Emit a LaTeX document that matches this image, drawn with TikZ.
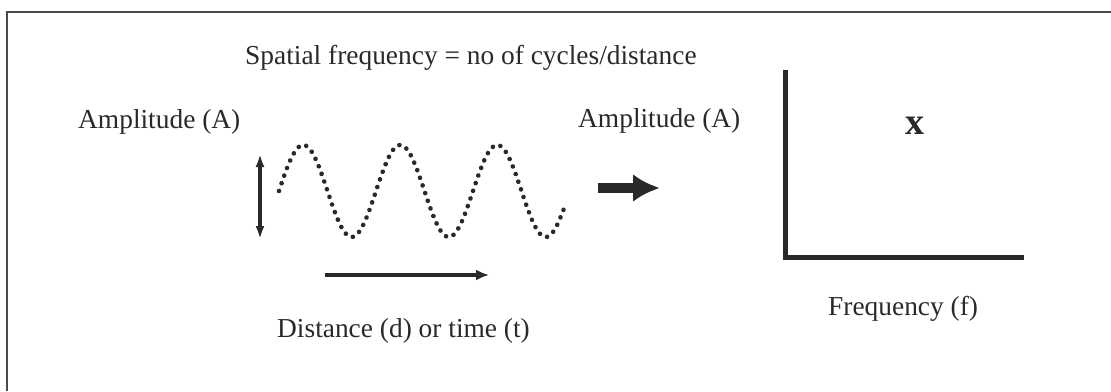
\documentclass[tikz,border=0pt]{standalone}
\usepackage{fontspec}
\setmainfont{Liberation Serif}
\usetikzlibrary{arrows.meta}
\definecolor{ink}{gray}{0.16}
\tikzset{
  lbl/.style={anchor=base west, inner sep=0pt, text=ink, font=\fontsize{27.4}{30}\selectfont},
  framestyle/.style={draw=ink!85, line width=1.6pt},
  wavedots/.style={draw=ink, line width=4.6pt, line cap=round, dash pattern=on 0.1pt off 8pt},
  thinarrow/.style={draw=ink, line width=3.4pt},
  axisstyle/.style={draw=ink, line width=5pt, line cap=rect, line join=miter}
}
\begin{document}
\begin{tikzpicture}[x=1pt,y=-1pt]
\useasboundingbox (0,0) rectangle (1111,391);
% frame
\coordinate (fb) at (7,391);
\coordinate (ftl) at (7,12);
\coordinate (fr) at (1111,12);
\draw[framestyle] (fb) -- (ftl) -- (fr);
% texts
\node[lbl] (title) at (245,64) {Spatial frequency = no of cycles/distance};
\node[lbl] (ampL) at (78,128) {Amplitude (A)};
\node[lbl] (ampR) at (578,127) {Amplitude (A)};
\node[lbl] (freq) at (828,315) {Frequency (f)};
\node[lbl] (dist) at (277,337) {Distance (d) or time (t)};
\node[inner sep=0pt, text=ink, font=\fontsize{38}{40}\selectfont\bfseries] (mark) at (915,126) {x};
% wave
\draw[wavedots] plot[domain=0:286, samples=220] ({279+\x}, {191-46*sin(3.7113*\x)});
% vertical double arrow
\coordinate (vt) at (260,154);
\coordinate (vb) at (260,239);
\draw[thinarrow, {Latex[length=13pt,width=9pt]}-{Latex[length=13pt,width=9pt]}] (vt) -- (vb);
% horizontal arrow
\coordinate (hl) at (325,275);
\coordinate (hr) at (489,275);
\draw[thinarrow, line width=4pt, -{Latex[length=13pt,width=11pt]}] (hl) -- (hr);
% big arrow
\coordinate (bl) at (598,188);
\coordinate (br) at (660,188);
\draw[draw=ink, line width=10pt, -{Latex[length=27pt,width=28pt]}] (bl) -- (br);
% axes
\coordinate (ay) at (785,72);
\coordinate (ao) at (785,257);
\coordinate (ax) at (1021,257);
\draw[axisstyle] (ay) -- (ao) -- (ax);
\end{tikzpicture}
\end{document}
